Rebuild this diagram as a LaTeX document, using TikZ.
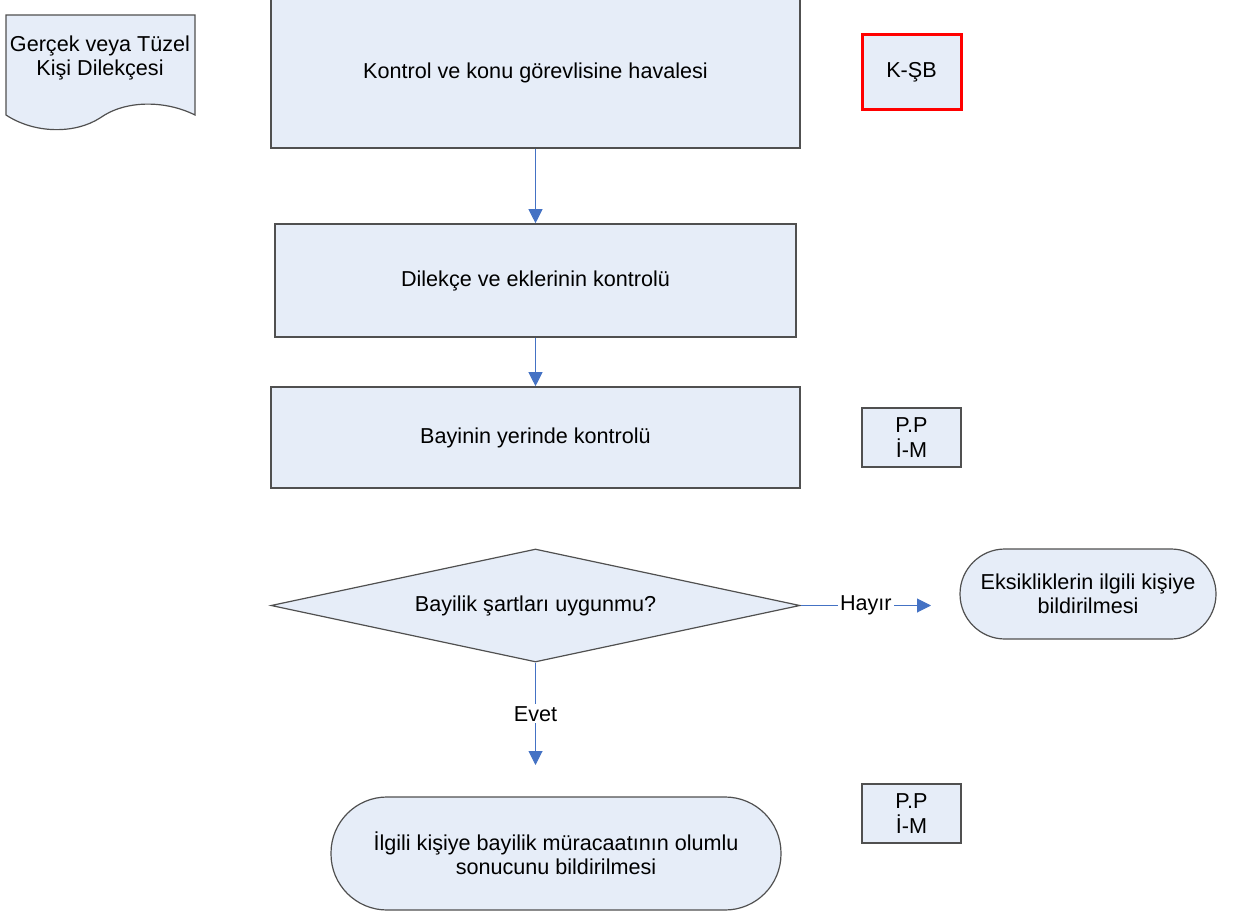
\documentclass[tikz,border=0pt]{standalone}
\usepackage{fontspec}
\setmainfont{Liberation Sans}
\usepackage{tikz}
\usetikzlibrary{positioning,shapes.geometric,arrows.meta}
\definecolor{boxfill}{RGB}{230,237,248}
\definecolor{boxline}{RGB}{80,80,80}
\definecolor{flowblue}{RGB}{68,114,196}
\begin{document}
\begin{tikzpicture}[x=0.5pt,y=-0.5pt,
		every node/.style={font=\fontsize{10.8}{12.2}\selectfont, align=center},
		process/.style={rectangle, draw=boxline, fill=boxfill, line width=0.8pt, inner sep=0pt},
		decision/.style={diamond, draw=boxline, fill=boxfill, line width=0.6pt, inner sep=0pt, aspect=4.68,
			minimum width=264.5pt, minimum height=56.5pt},
		terminal/.style={rectangle, draw=boxline, fill=boxfill, line width=0.6pt, inner sep=0pt},
		unit/.style={rectangle, draw=boxline, fill=boxfill, line width=0.6pt, inner sep=0pt,
			minimum width=49.5pt, minimum height=29.5pt},
		flow/.style={-{Triangle[width=7pt,length=7pt]}, draw=flowblue, fill=flowblue, line width=0.5pt},
		answer/.style={fill=white, inner sep=1pt}]
		\useasboundingbox (0,0) rectangle (1236,915);
		% belge
		\draw[draw=boxline, fill=boxfill, line width=0.6pt] (6,15) -- (195,15) -- (195,115)
			.. controls (165,100) and (125,100) .. (100,118)
			.. controls (75,134) and (35,134) .. (6,115) -- cycle;
		\node (dilekce) at (100,58) {Gerçek veya Tüzel\\Kişi Dilekçesi};
		% adimlar
		\node[process, minimum width=264.5pt, minimum height=75pt] (havale) at (535.5,73) {Kontrol ve konu görevlisine havalesi};
		\node[process, minimum width=260.5pt, minimum height=56.5pt] (kontrol) at (535.5,280.5) {Dilekçe ve eklerinin kontrolü};
		\node[process, minimum width=264.5pt, minimum height=50.5pt] (yerinde) at (535.5,437.5) {Bayinin yerinde kontrolü};
		\node[decision] (sart) at (535.5,605.5) {Bayilik şartları uygunmu?};
		\node[terminal, minimum width=128pt, minimum height=45pt, rounded corners=22.5pt] (eksik) at (1088,594) {Eksikliklerin ilgili kişiye\\bildirilmesi};
		\node[terminal, minimum width=225pt, minimum height=56.5pt, rounded corners=28pt] (olumlu) at (556,853.5) {İlgili kişiye bayilik müracaatının olumlu\\sonucunu bildirilmesi};
		% birimler
		\node[unit, draw=red, line width=1.5pt, minimum height=37.5pt] (ksb) at (911.5,72.5) {K-ŞB};
		\node[unit] (pp1) at (911.5,437.5) {P.P\\İ-M};
		\node[unit] (pp2) at (911.5,813.5) {P.P\\İ-M};
		% oklar
		\coordinate (hayirson) at (931,605.5);
		\coordinate (evetson) at (535.5,765);
		\draw[flow] (havale) -- (kontrol);
		\draw[flow] (kontrol) -- (yerinde);
		\draw[flow] (sart.east) -- node[answer] {Hayır} (hayirson);
		\draw[flow] (sart.south) -- node[answer] {Evet} (evetson);
	\end{tikzpicture}
\end{document}
